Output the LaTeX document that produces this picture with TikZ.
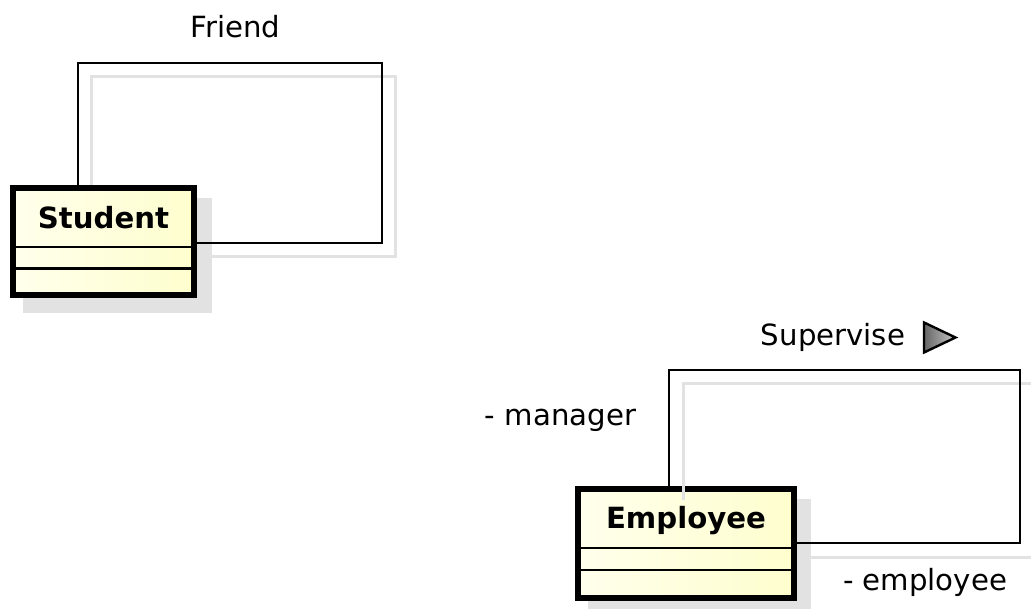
\documentclass[tikz,border=0pt]{standalone}
\usepackage{fontspec}
\setmainfont{DejaVu Sans}
\usetikzlibrary{calc}
\pgfdeclarelayer{background}
\pgfsetlayers{background,main}
\definecolor{classfill}{HTML}{FEFECE}
\definecolor{classlight}{HTML}{FFFFEC}
\definecolor{shadowgray}{HTML}{E2E2E2}
\begin{document}
\begin{tikzpicture}[x=1pt,y=-1pt,
  lbl/.style={font=\fontsize{29.2}{34}\selectfont, inner sep=0pt, anchor=base},
  classbox/.style={draw=black, line width=5.5pt, left color=classlight, right color=classfill},
  compartment/.style={draw=black, line width=2.2pt},
  assoc/.style={draw=black, line width=2.2pt, line join=miter},
  loopshadow/.style={draw=shadowgray, line width=3pt},
  boxshadow/.style={fill=shadowgray}]
\useasboundingbox (0,0) rectangle (1031,608);

% Student class
\node[classbox, minimum width=181pt, minimum height=107pt] (student) at (103.5,241.5) {};
\node[lbl] (studentname) at (student.center |- 0,228) {\textbf{Student}};
\draw[compartment] (student.west |- 0,247) -- (student.east |- 0,247);
\draw[compartment] (student.west |- 0,268.5) -- (student.east |- 0,268.5);

% Employee class
\node[classbox, minimum width=216pt, minimum height=109pt] (employee) at (686,543.5) {};
\node[lbl] (employeename) at (employee.center |- 0,528) {\textbf{Employee}};
\draw[compartment] (employee.west |- 0,548) -- (employee.east |- 0,548);
\draw[compartment] (employee.west |- 0,570) -- (employee.east |- 0,570);

% shadows behind the classes
\begin{pgfonlayer}{background}
  \fill[boxshadow] ($(student.north west)+(13,13)$) rectangle ($(student.south east)+(15,15)$);
  \fill[boxshadow] ($(employee.north west)+(13,13)$) rectangle ($(employee.south east)+(14,14)$);
  \draw[loopshadow] (91.5,0 |- student.north) |- (395.5,76.5) |- (student.east |- 0,256.5);
\end{pgfonlayer}

% Friend self-association
\draw[assoc] (78,0 |- student.north) |- (382,63) |- (student.east |- 0,243);
\node[lbl] (friend) at (235.5,37) {Friend};

% Supervise self-association
\draw[loopshadow] ($(669,0 |- employee.north)+(14,14)$) |- (1034,383.5) |- (employee.east |- 0,557);
\draw[assoc] (669,0 |- employee.north) |- (1020,370) |- (employee.east |- 0,543);
\node[lbl] (supervise) at (833,345) {Supervise};
\draw[line width=2.4pt, line join=miter, left color=black!60, right color=black!22]
  (924,322.5) -- (955.5,337.5) -- (924,352.5) -- cycle;
\node[lbl] (managerrole) at (560.5,425) {- manager};
\node[lbl] (employeerole) at (925,590) {- employee};
\end{tikzpicture}
\end{document}
